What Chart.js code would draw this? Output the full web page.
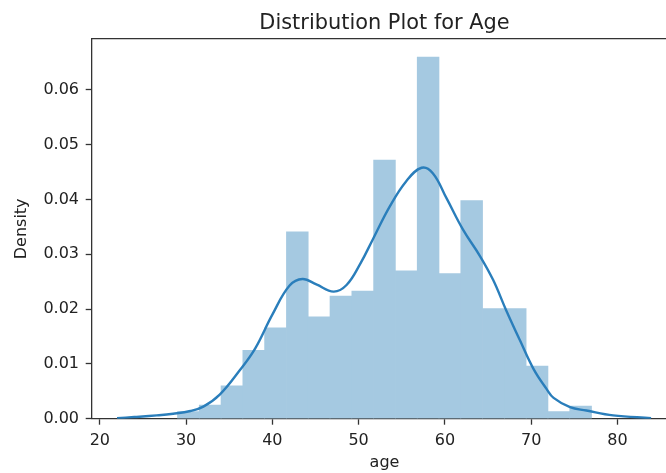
<!DOCTYPE html>
<html>
<head>
<meta charset="utf-8">
<script src="https://cdn.jsdelivr.net/npm/chart.js@4"></script>
<style>
  html, body { margin: 0; padding: 0; overflow: hidden; background: #fff; }
  #wrap { position: absolute; left: 0; top: 0; width: 680px; height: 473px; }
</style>
</head>
<body>
<div id="wrap"><canvas id="ageChart"></canvas></div>
<script>
// histogram bins (left edges) and density per bin
const binEdges = [29, 31.53, 34.05, 36.58, 39.1, 41.63, 44.16, 46.68, 49.21, 51.74,
  54.26, 56.79, 59.32, 61.84, 64.37, 66.89, 69.42, 71.95, 74.47, 77];
const binDensity = [0.0013, 0.0025, 0.0060, 0.0125, 0.0166, 0.0341, 0.0186, 0.0224, 0.0233, 0.0472,
  0.0270, 0.0660, 0.0265, 0.0398, 0.0201, 0.0201, 0.0096, 0.0013, 0.0023];

// kde curve
const kdeAge = [22.0, 24.0, 26.6, 28.5, 30.5, 32.0, 33.9, 36.2, 38.0, 40.0, 42.0, 43.5,
  45.1, 47.1, 48.6, 50.2, 51.7, 53.6, 55.5, 57.3, 58.6, 60.2, 62.1, 64.1, 65.6,
  67.1, 68.7, 70.3, 71.8, 72.6, 74.5, 76.4, 79.5, 83.9];
const kdeDensity = [0.0001, 0.0003, 0.0006, 0.0009, 0.0014, 0.0022, 0.0044, 0.0088, 0.0128,
  0.0190, 0.0243, 0.0255, 0.0245, 0.0232, 0.0244, 0.0283, 0.0329, 0.0387,
  0.0433, 0.0458, 0.0448, 0.0402, 0.0345, 0.0296, 0.0253, 0.0198, 0.0143, 0.0090,
  0.0054, 0.0038, 0.0021, 0.0015, 0.0006, 0.0001];

const xTicks = [20, 30, 40, 50, 60, 70, 80];
const yTicks = [0, 0.01, 0.02, 0.03, 0.04, 0.05, 0.06];

const FONT = "'DejaVu Sans', sans-serif";
const TEXT = "#222222";
const SPINE = "#333333";

const barPoints = binDensity.map((d, i) => ({
  x: (binEdges[i] + binEdges[i + 1]) / 2,
  y: d,
}));
const kdePoints = kdeAge.map((a, i) => ({ x: a, y: kdeDensity[i] }));

const ctx = document.getElementById("ageChart").getContext("2d");
window.ageChart = new Chart(ctx, {
  data: {
    datasets: [
      {
        type: "line",
        label: "kde",
        data: kdePoints,
        borderColor: "#2a7ebb",
        borderWidth: 2.4,
        pointRadius: 0,
        fill: false,
        tension: 0.4,
        order: 0,
      },
      {
        type: "bar",
        label: "age",
        data: barPoints,
        backgroundColor: "rgb(165,201,225)",
        borderWidth: 0,
        barPercentage: 1,
        categoryPercentage: 1,
        grouped: false,
        order: 1,
      },
    ],
  },
  options: {
    responsive: true,
    maintainAspectRatio: false,
    devicePixelRatio: 1,
    animation: false,
    layout: {
      autoPadding: false,
      padding: { left: 0, right: 2.7, top: 0, bottom: 0 },
    },
    plugins: {
      legend: { display: false },
      tooltip: { enabled: false },
      title: {
        display: true,
        text: "Distribution Plot for Age",
        fullSize: false,
        color: TEXT,
        font: { family: FONT, size: 20.9, weight: "normal", lineHeight: 1.2 },
        padding: { top: 11.3, bottom: 2.6 },
      },
    },
    scales: {
      x: {
        type: "linear",
        position: "bottom",
        offset: false,
        min: 19.06,
        max: 86.94,
        afterFit: (scale) => { scale.height = 54.3; },
        afterBuildTicks: (scale) => { scale.ticks = xTicks.map((v) => ({ value: v })); },
        ticks: {
          color: TEXT,
          padding: 6.9,
          maxRotation: 0,
          font: { family: FONT, size: 16 },
          callback: (v) => String(v),
        },
        grid: { offset: false, drawOnChartArea: false, drawTicks: true, tickLength: 6, color: SPINE, tickWidth: 1.3 },
        border: { display: true, color: SPINE, width: 1.3 },
        title: {
          display: true,
          text: "age",
          color: TEXT,
          font: { family: FONT, size: 16 },
          padding: { top: 0, bottom: 0.3 },
        },
      },
      x2: {
        type: "linear",
        position: "top",
        offset: false,
        min: 19.06,
        max: 86.94,
        afterFit: (scale) => { scale.height = 0; },
        ticks: { display: false },
        grid: { offset: false, drawOnChartArea: false, drawTicks: false },
        border: { display: true, color: SPINE, width: 1.3 },
      },
      y: {
        type: "linear",
        min: 0,
        max: 0.0693,
        afterFit: (scale) => { scale.width = 91.7; },
        afterBuildTicks: (scale) => { scale.ticks = yTicks.map((v) => ({ value: v })); },
        ticks: {
          color: TEXT,
          padding: 6.7,
          font: { family: FONT, size: 16 },
          callback: (v) => Number(v).toFixed(2),
        },
        grid: { drawOnChartArea: false, drawTicks: true, tickLength: 6, color: SPINE, tickWidth: 1.3 },
        border: { display: true, color: SPINE, width: 1.3 },
        title: {
          display: true,
          text: "Density",
          color: TEXT,
          font: { family: FONT, size: 16 },
          padding: { top: 12.4, bottom: 0 },
        },
      },
    },
  },
});
</script>
</body>
</html>
